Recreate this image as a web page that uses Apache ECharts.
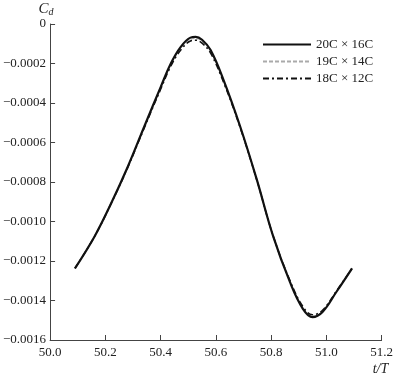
<!DOCTYPE html>
<html>
<head>
<meta charset="utf-8">
<script src="https://cdn.jsdelivr.net/npm/echarts@6/dist/echarts.min.js"></script>
<style>
  html, body { margin: 0; padding: 0; background: #fff; }
  #chart { width: 396px; height: 376px; }
</style>
</head>
<body>
<div id="chart"></div>
<script>
// time t/T
var tValues = [50.090, 50.162, 50.222, 50.282, 50.341, 50.401, 50.437, 50.473, 50.508, 50.527,
               50.550, 50.581, 50.628, 50.688, 50.748, 50.807, 50.868, 50.915, 50.950, 50.986, 51.036, 51.093];
// Cd for each grid
var cd20x16 = [-0.001237, -0.001073, -0.000905, -0.000720, -0.000519, -0.000317, -0.000200, -0.000116, -0.000069, -0.000065,
               -0.000080, -0.000132, -0.000284, -0.000519, -0.000787, -0.001073, -0.001306, -0.001442, -0.001484, -0.001458, -0.001357, -0.001237];
var cd19x14 = [-0.001237, -0.001073, -0.000905, -0.000722, -0.000522, -0.000322, -0.000207, -0.000124, -0.000078, -0.000074,
               -0.000089, -0.000140, -0.000290, -0.000522, -0.000788, -0.001072, -0.001302, -0.001436, -0.001478, -0.001453, -0.001355, -0.001237];
var cd18x12 = [-0.001237, -0.001073, -0.000906, -0.000724, -0.000526, -0.000328, -0.000214, -0.000132, -0.000086, -0.000082,
               -0.000097, -0.000148, -0.000296, -0.000525, -0.000789, -0.001071, -0.001298, -0.001430, -0.001472, -0.001449, -0.001353, -0.001237];
var seriesNames = ["20C × 16C", "19C × 14C", "18C × 12C"];
var xTicks = [50.0, 50.2, 50.4, 50.6, 50.8, 51.0, 51.2];

function pairs(vals) {
  return tValues.map(function (t, i) { return [t, vals[i]]; });
}

var chart = echarts.init(document.getElementById("chart"));
var serif = "Liberation Serif";

var option = {
  animation: false,
  grid: { left: 48, right: 14, top: 24, bottom: 35, containLabel: false },
  legend: {
    left: 257,
    top: 33,
    orient: "vertical",
    itemWidth: 48,
    itemHeight: 14,
    itemGap: 4,
    itemStyle: { opacity: 0 },
    textStyle: { fontFamily: serif, fontSize: 13, color: "#222" },
    data: seriesNames
  },
  xAxis: {
    type: "value",
    min: xTicks[0],
    max: xTicks[xTicks.length - 1],
    interval: 0.2,
    name: "t/T",
    nameLocation: "end",
    nameGap: -9,
    nameTextStyle: { fontFamily: serif, fontStyle: "italic", fontSize: 14, color: "#222",
                     verticalAlign: "top", padding: [22, 0, 0, 0] },
    axisLine: { onZero: false, lineStyle: { color: "#444", width: 1 } },
    axisTick: { inside: true, length: 5, lineStyle: { color: "#444" } },
    axisLabel: { margin: 6, fontFamily: serif, fontSize: 13, color: "#222",
                 formatter: function (v) { return v.toFixed(1); } },
    splitLine: { show: false }
  },
  yAxis: {
    type: "value",
    min: -0.0016,
    max: 0,
    interval: 0.0002,
    name: "{c|C}{d|d}",
    nameLocation: "end",
    nameGap: 5,
    nameTextStyle: {
      padding: [0, 8, 0, 0],
      rich: {
        c: { fontFamily: serif, fontStyle: "italic", fontSize: 15, color: "#222" },
        d: { fontFamily: serif, fontStyle: "italic", fontSize: 10, color: "#222", padding: [8, 0, 0, 0] }
      }
    },
    axisLine: { show: true, lineStyle: { color: "#444", width: 1 } },
    axisTick: { show: true, inside: true, length: 5, lineStyle: { color: "#444" } },
    axisLabel: { margin: 4, fontFamily: serif, fontSize: 13, color: "#222",
                 formatter: function (v) {
                   if (Math.abs(v) < 1e-12) return "0";
                   return "\u2212" + Math.abs(v).toFixed(4);
                 } },
    splitLine: { show: false }
  },
  series: [
    {
      name: seriesNames[0], type: "line", data: pairs(cd20x16), smooth: 0.4,
      symbol: "none", lineStyle: { color: "#111", width: 2.2, type: "solid" },
      itemStyle: { color: "#111" }, z: 3
    },
    {
      name: seriesNames[1], type: "line", data: pairs(cd19x14), smooth: 0.4,
      symbol: "none", lineStyle: { color: "#aaa", width: 1, type: [4, 2] },
      itemStyle: { color: "#aaa" }, z: 2
    },
    {
      name: seriesNames[2], type: "line", data: pairs(cd18x12), smooth: 0.4,
      symbol: "none", lineStyle: { color: "#111", width: 1.5, type: [6, 3, 2, 3] },
      itemStyle: { color: "#111" }, z: 4
    }
  ]
};

chart.setOption(option);
window.addEventListener("resize", function () { chart.resize(); });
</script>
</body>
</html>
